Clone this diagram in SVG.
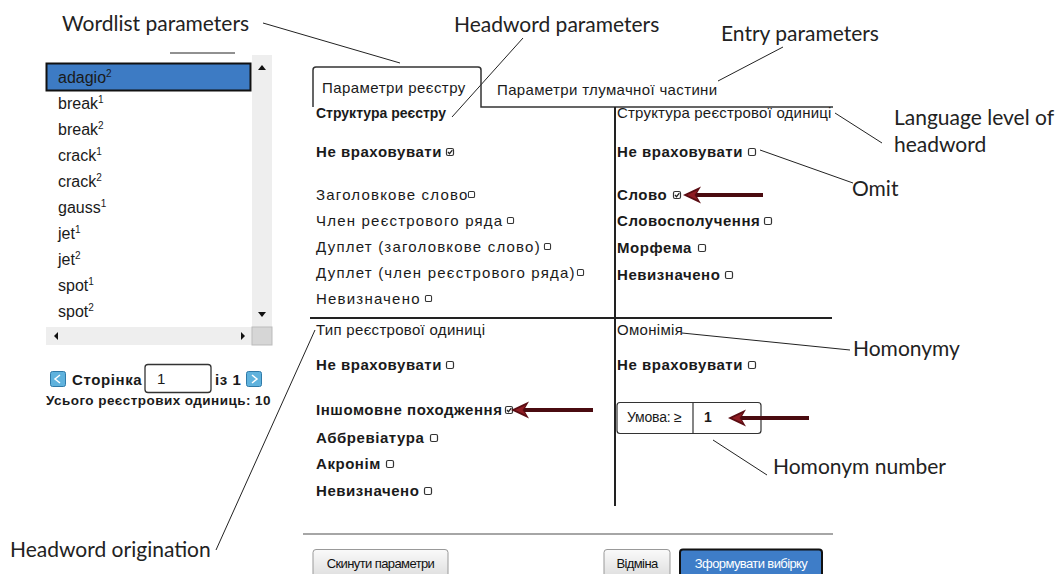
<svg xmlns="http://www.w3.org/2000/svg" width="1059" height="574" viewBox="0 0 1059 574">
<style>
.ann{font-family:Lato,"Open Sans",sans-serif;font-size:21px;fill:#222}
.ui{font-family:"Liberation Sans",Arial,sans-serif;font-size:15px;fill:#1a1a1a;letter-spacing:1.2px}
.b{font-weight:bold;letter-spacing:0.55px}
.h{letter-spacing:0.3px}
.li{font-family:"Liberation Sans",Arial,sans-serif;font-size:16px;fill:#1a1a1a}
.sup{font-size:10px}
.lead{stroke:#222;stroke-width:1;fill:none}
.red{stroke:#4a0b10;stroke-width:4;fill:none;marker-end:url(#ah)}
.btn{font-family:"Liberation Sans",Arial,sans-serif;font-size:13px;fill:#111;letter-spacing:-0.6px}
</style>
<defs>
<marker id="ah" markerWidth="18" markerHeight="18" refX="14" refY="9" orient="auto" markerUnits="userSpaceOnUse">
<path d="M0,0.5 L18,9 L0,17.5 L5,9 Z" fill="#5a0c12"/>
<path d="M3,4 L14,9 L3,14 L6.5,9 Z" fill="#b0282e" opacity="0.6"/>
</marker>
<symbol id="cb" viewBox="0 0 8 8" overflow="visible"><rect x="0.5" y="0.5" width="7" height="7" rx="1.5" fill="#fff" stroke="#333" stroke-width="1.2"/></symbol>
<symbol id="cbc" viewBox="0 0 8 8" overflow="visible"><rect x="0.5" y="0.5" width="7" height="7" rx="1.5" fill="#fff" stroke="#333" stroke-width="1.2"/><path d="M2,4 L3.5,5.7 L6.3,2.2" stroke="#222" stroke-width="1.3" fill="none"/></symbol>
<linearGradient id="gb" x1="0" y1="0" x2="0" y2="1"><stop offset="0" stop-color="#fafafa"/><stop offset="1" stop-color="#dcdcdc"/></linearGradient>
</defs>
<rect width="1059" height="574" fill="#fff"/>

<g id="annotations">
<text class="ann" x="62" y="31">Wordlist parameters</text>
<text class="ann" x="454" y="32">Headword parameters</text>
<text class="ann" x="721" y="41">Entry parameters</text>
<text class="ann" x="894" y="125">Language level of</text>
<text class="ann" x="894" y="152">headword</text>
<text class="ann" x="852" y="196">Omit</text>
<text class="ann" x="853" y="356">Homonymy</text>
<text class="ann" x="773" y="474">Homonym number</text>
<text class="ann" x="10" y="557">Headword origination</text>
</g>

<g id="connectors">
<line class="lead" x1="263" y1="23" x2="400" y2="63"/>
<line class="lead" x1="170" y1="53" x2="235" y2="53"/>
<line class="lead" x1="523" y1="38" x2="452" y2="117"/>
<line class="lead" x1="783" y1="47" x2="718" y2="81"/>
<line class="lead" x1="835" y1="113" x2="882" y2="143"/>
<line class="lead" x1="760" y1="150" x2="853" y2="183"/>
<line class="lead" x1="682" y1="333" x2="850" y2="350"/>
<line class="lead" x1="713" y1="440" x2="767" y2="475"/>
<line class="lead" x1="315" y1="330" x2="216" y2="550"/>
</g>

<g id="wordlist">
<rect x="252" y="55" width="20" height="272" fill="#eeeeee"/>
<path d="M258,70 L262,65 L266,70 Z" fill="#111"/>
<path d="M258,312 L262,317 L266,312 Z" fill="#111"/>
<rect x="46" y="327" width="206" height="18" fill="#eeeeee"/>
<path d="M58,332 L54,336 L58,340 Z" fill="#111"/>
<path d="M241,332 L245,336 L241,340 Z" fill="#111"/>
<rect x="252" y="327" width="20" height="18" fill="#d6d6d6" stroke="#bbb"/>
<rect x="46.5" y="63.5" width="204" height="27" fill="#3d7bc4" stroke="#111" stroke-width="2"/>
<text class="li" x="58" y="83">adagio<tspan class="sup" dy="-6">2</tspan></text>
<text class="li" x="58" y="109">break<tspan class="sup" dy="-6">1</tspan></text>
<text class="li" x="58" y="135">break<tspan class="sup" dy="-6">2</tspan></text>
<text class="li" x="58" y="161">crack<tspan class="sup" dy="-6">1</tspan></text>
<text class="li" x="58" y="187">crack<tspan class="sup" dy="-6">2</tspan></text>
<text class="li" x="58" y="213">gauss<tspan class="sup" dy="-6">1</tspan></text>
<text class="li" x="58" y="239">jet<tspan class="sup" dy="-6">1</tspan></text>
<text class="li" x="58" y="265">jet<tspan class="sup" dy="-6">2</tspan></text>
<text class="li" x="58" y="291">spot<tspan class="sup" dy="-6">1</tspan></text>
<text class="li" x="58" y="317">spot<tspan class="sup" dy="-6">2</tspan></text>
</g>

<g id="pager">
<rect x="50.5" y="371.5" width="15" height="15" rx="2" fill="#5fb2dd" stroke="#2f7aa8"/>
<path d="M60,375 L55,379 L60,383" stroke="#fff" stroke-width="1.5" fill="none"/>
<text class="ui b" x="72" y="385" style="letter-spacing:0.6px">Сторінка</text>
<rect x="145" y="364.5" width="66" height="28" rx="3" fill="#fff" stroke="#333" stroke-width="1.3"/>
<text class="ui" x="157" y="384" style="letter-spacing:0">1</text>
<text class="ui b" x="215" y="385">із 1</text>
<rect x="246.5" y="371.5" width="15" height="15" rx="2" fill="#5fb2dd" stroke="#2f7aa8"/>
<path d="M252,375 L257,379 L252,383" stroke="#fff" stroke-width="1.5" fill="none"/>
<text class="ui b" x="46" y="405" style="font-size:13.5px;letter-spacing:0.45px">Усього реєстрових одиниць: 10</text>
</g>

<g id="tabs">
<path d="M313,107 L313,70 Q313,67 316,67 L478,67 Q481,67 481,70 L481,107 L833,107" stroke="#333" stroke-width="1.5" fill="none"/>
<text class="ui" x="322" y="93" style="letter-spacing:0.45px">Параметри реєстру</text>
<text class="ui" x="497" y="95" style="letter-spacing:0.35px">Параметри тлумачної частини</text>
</g>

<g id="panel-lines">
<line x1="615" y1="107" x2="615" y2="506" stroke="#222" stroke-width="2"/>
<line x1="310" y1="318" x2="832" y2="318" stroke="#222" stroke-width="2"/>
<line x1="303" y1="534" x2="833" y2="534" stroke="#888" stroke-width="1.5"/>
</g>

<g id="headword-structure">
<text class="ui b" x="316" y="118" style="font-size:14px;letter-spacing:0">Структура реєстру</text>
<text class="ui b" x="316" y="157">Не враховувати</text><use href="#cbc" x="446" y="148" width="8" height="8"/>
<text class="ui" x="316" y="200">Заголовкове слово</text><use href="#cb" x="468" y="191" width="7" height="7"/>
<text class="ui" x="316" y="226">Член реєстрового ряда</text><use href="#cb" x="507" y="217" width="7" height="7"/>
<text class="ui" x="316" y="252">Дуплет (заголовкове слово)</text><use href="#cb" x="544" y="243" width="7" height="7"/>
<text class="ui" x="316" y="278">Дуплет (член реєстрового ряда)</text><use href="#cb" x="577" y="269" width="7" height="7"/>
<text class="ui" x="316" y="304">Невизначено</text><use href="#cb" x="425" y="295" width="7" height="7"/>
</g>

<g id="headword-type">
<text class="ui h" x="316" y="335">Тип реєстрової одиниці</text>
<text class="ui b" x="316" y="370">Не враховувати</text><use href="#cb" x="446" y="361" width="8" height="8"/>
<text class="ui b" x="316" y="415">Іншомовне походження</text><use href="#cbc" x="505" y="406" width="8" height="8"/>
<text class="ui b" x="316" y="443">Аббревіатура</text><use href="#cb" x="430" y="434" width="8" height="8"/>
<text class="ui b" x="316" y="469">Акронім</text><use href="#cb" x="386" y="460" width="8" height="8"/>
<text class="ui b" x="316" y="496">Невизначено</text><use href="#cb" x="424" y="487" width="8" height="8"/>
</g>

<g id="unit-structure">
<text class="ui" x="617" y="118" style="letter-spacing:0.2px">Структура реєстрової одиниці</text>
<text class="ui b" x="617" y="157">Не враховувати</text><use href="#cb" x="748" y="148" width="8" height="8"/>
<text class="ui b" x="617" y="200">Слово</text><use href="#cbc" x="673" y="191" width="8" height="8"/>
<text class="ui b" x="617" y="226">Словосполучення</text><use href="#cb" x="764" y="217" width="8" height="8"/>
<text class="ui b" x="617" y="253">Морфема</text><use href="#cb" x="698" y="244" width="8" height="8"/>
<text class="ui b" x="617" y="280">Невизначено</text><use href="#cb" x="725" y="271" width="8" height="8"/>
</g>

<g id="homonymy">
<text class="ui" x="617" y="335" style="letter-spacing:0.3px">Омонімія</text>
<text class="ui b" x="617" y="370">Не враховувати</text><use href="#cb" x="748" y="361" width="8" height="8"/>
<rect x="617" y="402.5" width="144" height="31" rx="3" fill="#fff" stroke="#333" stroke-width="1.2"/>
<line x1="693" y1="402.5" x2="693" y2="433.5" stroke="#333" stroke-width="1.2"/>
<text class="ui" x="627" y="422" style="font-size:14px;letter-spacing:-0.2px">Умова: ≥</text>
<text class="ui b" x="704" y="422" style="font-size:14px">1</text>
</g>

<g id="buttons">
<rect x="313" y="549.5" width="135" height="30" rx="3" fill="url(#gb)" stroke="#999"/>
<text class="btn" x="380.5" y="568" text-anchor="middle">Скинути параметри</text>
<rect x="604" y="549.5" width="66" height="30" rx="3" fill="url(#gb)" stroke="#999"/>
<text class="btn" x="637" y="568" text-anchor="middle">Відміна</text>
<rect x="680" y="549.5" width="142" height="30" rx="3" fill="#3e7dc8" stroke="#111" stroke-width="2"/>
<text class="btn" x="751" y="568" text-anchor="middle" style="fill:#fff">Зформувати вибірку</text>
</g>

<g id="arrows">
<line class="red" x1="763" y1="195" x2="687" y2="195"/>
<line class="red" x1="593" y1="410" x2="515" y2="410"/>
<line class="red" x1="809" y1="418" x2="732" y2="418"/>
</g>
</svg>
